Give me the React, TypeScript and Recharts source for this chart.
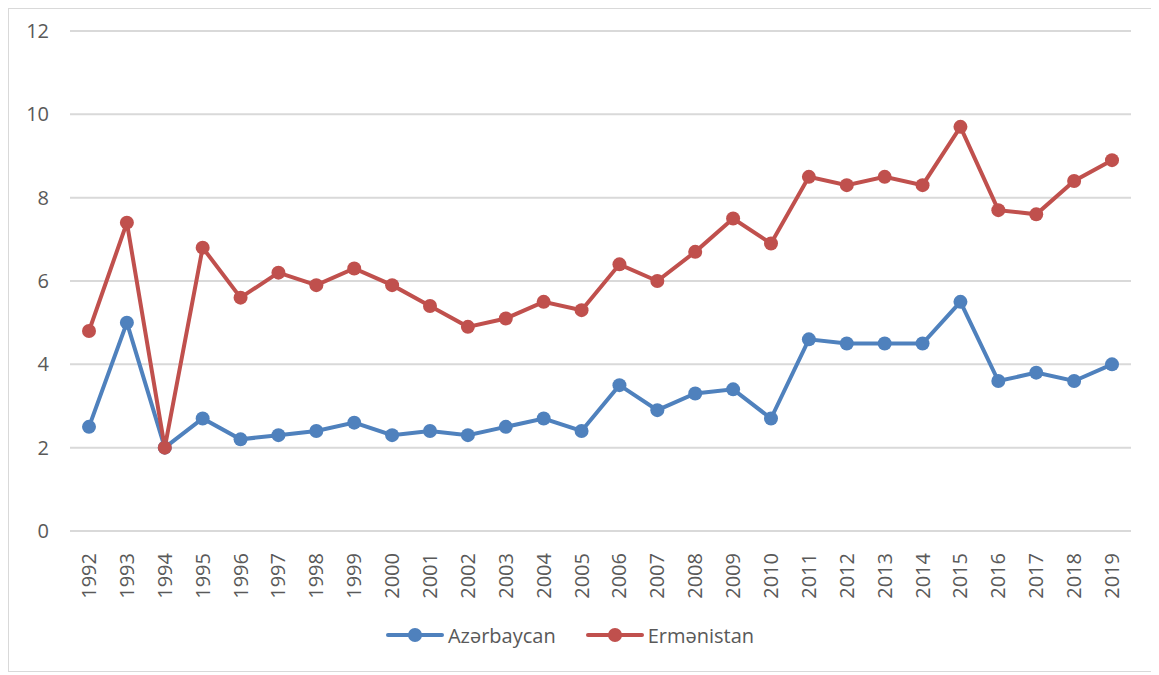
import React from "react";
import { LineChart, Line, XAxis, YAxis, CartesianGrid, Legend } from "recharts";

const years = ["1992","1993","1994","1995","1996","1997","1998","1999","2000","2001","2002","2003","2004","2005","2006","2007","2008","2009","2010","2011","2012","2013","2014","2015","2016","2017","2018","2019"];
const azerbaijan = [2.5,5.0,2.0,2.7,2.2,2.3,2.4,2.6,2.3,2.4,2.3,2.5,2.7,2.4,3.5,2.9,3.3,3.4,2.7,4.6,4.5,4.5,4.5,5.5,3.6,3.8,3.6,4.0];
const armenia = [4.8,7.4,2.0,6.8,5.6,6.2,5.9,6.3,5.9,5.4,4.9,5.1,5.5,5.3,6.4,6.0,6.7,7.5,6.9,8.5,8.3,8.5,8.3,9.7,7.7,7.6,8.4,8.9];
const yTicks = [0, 2, 4, 6, 8, 10, 12];
const seriesNames = ["Azərbaycan", "Ermənistan"];
const colors = ["#4F81BD", "#C0504D"];

const data = years.map((y, i) => ({ year: y, az: azerbaijan[i], am: armenia[i] }));

const FONT = "'Open Sans', 'Noto Sans', sans-serif";

const XTick = (props: any) => {
  const { x, y, payload } = props;
  return (
    <text
      transform={`translate(${x},${y + 14}) rotate(-90)`}
      textAnchor="end"
      dy="0.35em"
      fill="#595959"
      fontSize={20}
      fontFamily={FONT}
    >
      {payload.value}
    </text>
  );
};

const LegendContent = () => (
  <div style={{ display: "flex", justifyContent: "center", alignItems: "center", height: 40, fontFamily: FONT, fontSize: 20, color: "#595959" }}>
    {seriesNames.map((n, i) => (
      <div key={n} style={{ display: "flex", alignItems: "center", marginRight: i === 0 ? 30 : 0 }}>
        <svg width={58} height={20} style={{ marginRight: 4 }}>
          <line x1={2} y1={10} x2={56} y2={10} stroke={colors[i]} strokeWidth={4} strokeLinecap="round" />
          <circle cx={29} cy={10} r={7} fill={colors[i]} />
        </svg>
        <span>{n}</span>
      </div>
    ))}
  </div>
);

export default function App() {
  return (
    <div style={{ width: 1145, height: 662, border: "1px solid #d9d9d9", position: "relative" }}>
      <LineChart width={1145} height={662} data={data} margin={{ top: 22, right: 23, left: 0, bottom: 16 }}>
        <CartesianGrid vertical={false} stroke="#d9d9d9" strokeWidth={2} />
        <XAxis
          dataKey="year"
          axisLine={false}
          tickLine={false}
          tick={<XTick />}
          interval={0}
          height={84}
          padding={{ left: 19, right: 19 }}
        />
        <YAxis
          domain={[0, 12]}
          ticks={yTicks}
          axisLine={false}
          tickLine={false}
          tickSize={0}
          tickMargin={21}
          width={61}
          tick={{ fill: "#595959", fontSize: 20, fontFamily: FONT }}
        />
        <Legend verticalAlign="bottom" height={40} content={<LegendContent />} />
        <Line
          type="linear"
          dataKey="az"
          name={seriesNames[0]}
          stroke={colors[0]}
          strokeWidth={4}
          dot={{ r: 7, fill: colors[0], stroke: colors[0], strokeWidth: 0 }}
          isAnimationActive={false}
        />
        <Line
          type="linear"
          dataKey="am"
          name={seriesNames[1]}
          stroke={colors[1]}
          strokeWidth={4}
          dot={{ r: 7, fill: colors[1], stroke: colors[1], strokeWidth: 0 }}
          isAnimationActive={false}
        />
      </LineChart>
    </div>
  );
}
